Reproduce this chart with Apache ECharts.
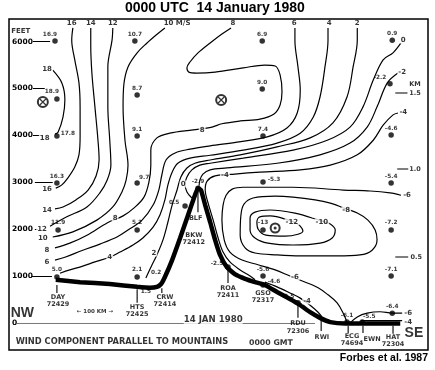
<!DOCTYPE html>
<html>
<head>
<meta charset="utf-8">
<script src="https://cdn.jsdelivr.net/npm/echarts@6.0.0/dist/echarts.min.js"></script>
<style>
html,body{margin:0;padding:0;background:#fff;}
#chart{width:435px;height:370px;}
</style>
</head>
<body>
<div id="chart"></div>
<script>
// Distance along the cross-section (km from DAY) and height (feet)
const xRange = [-126, 976];
const yRange = [-564, 6480];
const heightTicks = [0, 1000, 2000, 3000, 4000, 5000, 6000];

// Terrain profile [km, ft]
const terrain = [[-3,930],[61,880],[139,840],[211,780],[245,760],[263,780],[274,840],[284,990],[303,1350],[324,1820],[345,2310],[363,2730],[371,2880],[379,2840],[390,2520],[403,2160],[416,1780],[429,1460],[447,1200],[468,1050],[495,950],[521,880],[547,820],[579,670],[613,520],[640,390],[666,240],[692,120],[719,30],[758,0],[903,0]];

// Isotachs (m/s) [km, ft]
const c18 = [[-11,5390],[13,5120],[21,4760],[16,4390],[3,4070],[-5,4030]];
const c16 = [[42,6290],[39,6030],[47,5610],[58,5120],[61,4610],[61,3970],[58,3590],[47,3330],[29,3100],[13,2950],[-3,2880]];
const c14 = [[89,6290],[89,5930],[92,5330],[100,4610],[108,3900],[111,3480],[103,3140],[82,2840],[50,2630],[16,2480],[-5,2440]];
const c12 = [[147,6290],[145,6030],[134,5460],[134,4610],[139,3900],[142,3370],[132,3050],[113,2780],[79,2480],[26,2270],[-18,2070]];
const c10 = [[284,6290],[261,6140],[237,5970],[211,5760],[187,5460],[176,5080],[174,4610],[179,3900],[187,3370],[182,3050],[171,2800],[147,2480],[105,2200],[42,1950],[-11,1840]];
const c8 = [[458,6290],[434,6160],[403,5970],[371,5760],[350,5565],[342,5440],[347,5350],[368,5330],[416,5350],[490,5440],[547,5500],[574,5480],[587,5290],[592,4930],[587,4650],[571,4460],[534,4350],[482,4310],[434,4250],[408,4180],[358,4120],[297,4050],[263,3950],[247,3690],[247,3370],[242,3010],[229,2690],[203,2460],[174,2290],[132,2140],[79,1880],[34,1710],[-5,1610]];
const c6 = [[626,6290],[626,6030],[634,5460],[640,4970],[632,4480],[605,4160],[553,3970],[474,3860],[403,3780],[350,3710],[311,3630],[287,3480],[276,3160],[268,2840],[253,2520],[224,2200],[187,1990],[158,1840],[113,1690],[68,1560],[21,1410],[-5,1350]];
const c4 = [[713,6290],[713,6030],[705,5460],[692,4820],[674,4390],[640,4050],[579,3840],[490,3690],[403,3580],[350,3520],[318,3410],[303,3220],[292,2950],[284,2630],[271,2310],[253,2050],[226,1820],[200,1670],[166,1520],[139,1410],[100,1310],[68,1220],[34,1140],[8,1070]];
const c2 = [[790,6290],[790,6030],[779,5460],[763,4820],[726,4270],[666,3950],[579,3760],[482,3590],[403,3480],[363,3410],[342,3310],[326,3120],[316,2840],[303,2520],[292,2160],[279,1780],[263,1460],[250,1245],[234,970]];
const c0 = [[905,5970],[884,5760],[858,5610],[832,5180],[805,4610],[771,4180],[711,3900],[621,3690],[490,3520],[403,3410],[376,3370],[355,3270],[342,3120],[337,2970],[342,2800],[355,2670]];
const cm2 = [[897,5330],[869,5120],[842,4610],[816,4180],[771,3840],[692,3590],[579,3410],[447,3310],[403,3270],[384,3180],[376,3050],[374,2930]];
const cm4 = [[897,4480],[884,4440],[858,4220],[832,3900],[790,3590],[719,3370],[640,3270],[534,3220],[468,3180],[416,3140],[395,3030],[390,2840],[397,2580],[411,2200],[424,1820],[437,1520],[455,1310],[482,1140],[508,1010],[521,930]];
const cm4b = [[547,880],[579,780],[613,650],[640,540],[666,390],[687,240],[697,140]];
const cm4c = [[800,60],[908,60]];
const cm6 = [[905,2730],[876,2780],[824,2820],[753,2840],[621,2900],[490,2900],[461,2860],[445,2730],[437,2520],[434,2200],[440,1780],[455,1520],[487,1350],[529,1250],[574,1140],[613,1010],[647,900],[687,760],[713,610],[737,440],[753,220],[763,30]];
const cm6b = [[771,10],[790,140],[816,220],[850,250],[882,220],[908,220]];
const cm8 = [[753,2460],[790,2350],[818,2200],[837,1990],[842,1780],[829,1560],[797,1460],[737,1440],[640,1440],[579,1460],[521,1500],[495,1610],[482,1880],[484,2310],[492,2540],[516,2670],[574,2710],[621,2690],[679,2630],[719,2560],[753,2460]];
const cm10 = [[671,2245],[626,2350],[561,2415],[521,2370],[508,2245],[508,1990],[521,1820],[555,1710],[621,1670],[692,1710],[724,1820],[732,1990],[719,2120],[697,2180],[671,2245]];
const cm12 = [[600,2220],[561,2290],[534,2270],[526,2160],[529,2010],[550,1880],[600,1860],[634,1900],[647,1970],[640,2070],[629,2140],[600,2220]];

// Observed wind components [km, ft, m/s]
const soundings = [[-5,6010,'16.9'],[205,6010,'10.7'],[540,6010,'6.9'],[882,6030,'0.9'],
  [0,4780,'18.9'],[211,4860,'8.7'],[540,4990,'9.0'],[876,5100,'-2.2'],
  [0,3990,'17.8'],[211,3990,'9.1'],[542,3990,'7.4'],[879,4010,'-4.6'],
  [0,2990,'16.3'],[211,2990,'9.7'],[542,3010,'-5.3'],[879,2990,'-5.4'],
  [3,1990,'11.9'],[211,1990,'5.2'],[542,1990,'-13'],[879,1990,'-7.2'],
  [879,1010,'-7.1'],[0,990,'5.0'],[211,990,'2.1'],
  [337,2500,'0.5'],[371,2880,'-2.9'],[450,1200,'-2.5'],[542,1010,'-5.6'],[542,820,'-4.6'],[634,440,'-3.5'],[763,30,'-6.1'],[803,30,'-5.5'],[882,220,'-6.4']];
const soundingLabelPos = ['tl','t','t','t','tl','t','t','tl2','r','t','t','t','t','tr','r','t','t','t','t','t','t','t','t','l','t','l','t','r','tl2','t','tr','t'];
const extraValues = [[234,690,'1.5'],[261,1095,'0.2']];

// Isotach labels [km, ft, text]
const topIsotachLabels = [[39,6390,'16'],[89,6390,'14'],[147,6390,'12'],[316,6390,'10 M/S'],[463,6390,'8'],[624,6390,'6'],[716,6390,'4'],[790,6390,'2']];
const isotachLabels = [[-26,5420,'18'],[-32,3950,'18'],[-26,2860,'16'],[-26,2415,'14'],[-39,2010,'12'],[-37,1820,'10'],[-26,1560,'8'],[-26,1310,'6'],
  [382,4120,'8'],[153,2245,'8'],[139,1415,'4'],[255,1500,'2'],[332,2970,'0'],[442,3160,'-4'],
  [911,6030,'0'],[908,5350,'-2'],[911,4500,'-4'],[921,2735,'-6'],[761,2415,'-8'],[697,2160,'-10'],[618,2160,'-12'],
  [626,990,'-6'],[658,480,'-4'],[924,225,'-6'],[924,30,'-4']];

// Jet cores
const jetInto = [[-37,4713],[432,4756]];
const jetOut = [[574,2032]];

// Height tick dashes [ft, km0, km1] and km scale
const heightDashes = [[6000,-63,-18],[5000,-63,-32],[4000,-63,-39],[3000,-58,-11],[2000,-58,-50],[1000,-66,-13]];
const kmDashes = [[4905,890,922],[3288,895,924],[1415,890,924]];
const kmLabels = [[942,5090,'KM'],[942,4905,'1.5'],[942,3288,'1.0'],[945,1415,'0.5']];

// Stations [km, ft of label centre, text]
const stationLabels = [[3,480,'DAY\n72429'],[211,265,'HTS\n72425'],[284,480,'CRW\n72414'],[365,2245,'BLF'],[360,1800,'BKW\n72412'],
  [450,670,'ROA\n72411'],[542,565,'GSO\n72317'],[634,10,'RDU'],[634,-160,'72306'],[697,-290,'RWI'],[776,-350,'ECG\n74694'],[829,-330,'EWN'],[884,-370,'HAT\n72304']];
const stationTicks = [[0,820,650],[211,730,440],[276,750,650],[371,2840,2370],[450,1140,860],[634,390,120],[695,120,-160],[766,-50,-200],[805,-50,-200],[884,-50,-220]];
const seaLevel = [[-105,0],[679,0]];

const otherText = [[-91,220,'NW'],[939,-200,'SE']];
const captionText = [[100,245,'\u2190 100 KM \u2192'],[411,75,'14 JAN 1980'],[171,-383,'WIND COMPONENT PARALLEL TO MOUNTAINS'],[563,-425,'0000 GMT'],[-95,6224,'FEET']];

// ---------------- rendering ----------------
const FONT = 'DejaVu Sans';
const OFF = {t:[0,-7], tl:[-5,-7], tl2:[-10,-6], tr:[7,-6], r:[11,-3], l:[-11,-4]};

function lineSeries(data, width, smooth, color, z) {
  return {type:'line', data: data, showSymbol:false, symbol:'none', smooth: smooth,
    lineStyle:{color: color || '#000', width: width}, silent:true, animation:false, z: z || 2};
}
function textSeries(items, o) {
  return {type:'scatter', symbolSize:1, itemStyle:{color:'rgba(0,0,0,0)'}, silent:true, animation:false, z: o.z || 6,
    data: items.map(t => ({value:[t[0], t[1]], label:{formatter: String(t[2]), fontSize: (o.sizes && o.sizes[t[2]]) || o.size}})),
    label:{show:true, position:'inside', color:'#000', fontFamily: o.family || FONT, fontSize:o.size,
      fontWeight:o.weight || 'bold', lineHeight:o.lh, backgroundColor:o.bg || 'transparent', padding:o.pad || 0}};
}

const series = [];
[c18,c16,c14,c12,c10,c8,c6,c4,c2,c0,cm2,cm4,cm4b,cm4c,cm6,cm6b,cm8,cm10,cm12].forEach(c => series.push(lineSeries(c, 1.2, 0.35)));
series.push(lineSeries(seaLevel, 0.8, false, '#555', 1));
series.push(lineSeries(terrain, 4.5, 0.15, '#000', 3));
heightDashes.forEach(d => series.push(lineSeries([[d[1], d[0]], [d[2], d[0]]], 1.1, false)));
kmDashes.forEach(d => series.push(lineSeries([[d[1], d[0]], [d[2], d[0]]], 1.1, false)));
stationTicks.forEach(d => series.push(lineSeries([[d[0], d[1]], [d[0], d[2]]], 1.1, false)));

series.push({type:'scatter', symbol:'circle', symbolSize:5.5, itemStyle:{color:'#000'}, silent:true, animation:false, z:7,
  data: soundings.map((s, i) => ({value:[s[0], s[1]], label:{formatter:s[2], offset: OFF[soundingLabelPos[i]]}})),
  label:{show:true, position:'inside', color:'#000', fontFamily:FONT, fontSize:5.8, fontWeight:'bold'}});
series.push(textSeries(extraValues, {size:5.8}));
series.push({type:'scatter', symbol:'emptyCircle', symbolSize:10, itemStyle:{color:'#000', borderWidth:1.2}, silent:true, animation:false, z:7, data: jetInto});
series.push({type:'scatter', symbol:'path://M0,0L10,10M10,0L0,10', symbolSize:6, itemStyle:{color:'rgba(0,0,0,0)', borderColor:'#000', borderWidth:1.2}, silent:true, animation:false, z:8, data: jetInto});
series.push({type:'scatter', symbol:'emptyCircle', symbolSize:9, itemStyle:{color:'#000', borderWidth:1.2}, silent:true, animation:false, z:7, data: jetOut});
series.push({type:'scatter', symbol:'circle', symbolSize:3, itemStyle:{color:'#000'}, silent:true, animation:false, z:8, data: jetOut});

series.push(textSeries(topIsotachLabels, {size:7}));
series.push(textSeries(isotachLabels, {size:7, bg:'#fff', pad:[0,1]}));
series.push(textSeries(kmLabels, {size:6.5}));
series.push(textSeries(stationLabels, {size:6.5, lh:7}));
series.push(textSeries(otherText, {size:14, family:'Liberation Sans Narrow, Liberation Sans'}));
series.push(textSeries(captionText, {size:8.3, sizes:{'\u2190 100 KM \u2192':5.5, 'FEET':7, '0000 GMT':7.8, '14 JAN 1980':8.6}, bg:'#fff'}));

const option = {
  animation:false,
  backgroundColor:'#fff',
  title:[
    {text:'0000 UTC  14 January 1980', left:125, top:1, padding:0,
      textStyle:{fontFamily:'Liberation Sans', fontSize:14, fontWeight:'bold', color:'#000'}},
    {text:'Forbes et al. 1987', right:7, top:353, padding:0,
      textStyle:{fontFamily:'Liberation Sans', fontSize:10.5, fontWeight:'bold', color:'#000'}}
  ],
  grid:{left:9, right:7, top:19, bottom:20, show:true, borderColor:'#000', borderWidth:1.5, backgroundColor:'transparent'},
  xAxis:{type:'value', min:xRange[0], max:xRange[1], show:false},
  yAxis:{type:'value', min:yRange[0], max:yRange[1],
    axisLine:{show:false}, axisTick:{show:false}, splitLine:{show:false},
    axisLabel:{inside:true, margin:3, customValues:heightTicks, formatter: v => String(v),
      color:'#000', fontFamily:FONT, fontSize:7.5, fontWeight:'bold'}},
  series: series
};
const chart = echarts.init(document.getElementById('chart'));
chart.setOption(option);
</script>
</body>
</html>
